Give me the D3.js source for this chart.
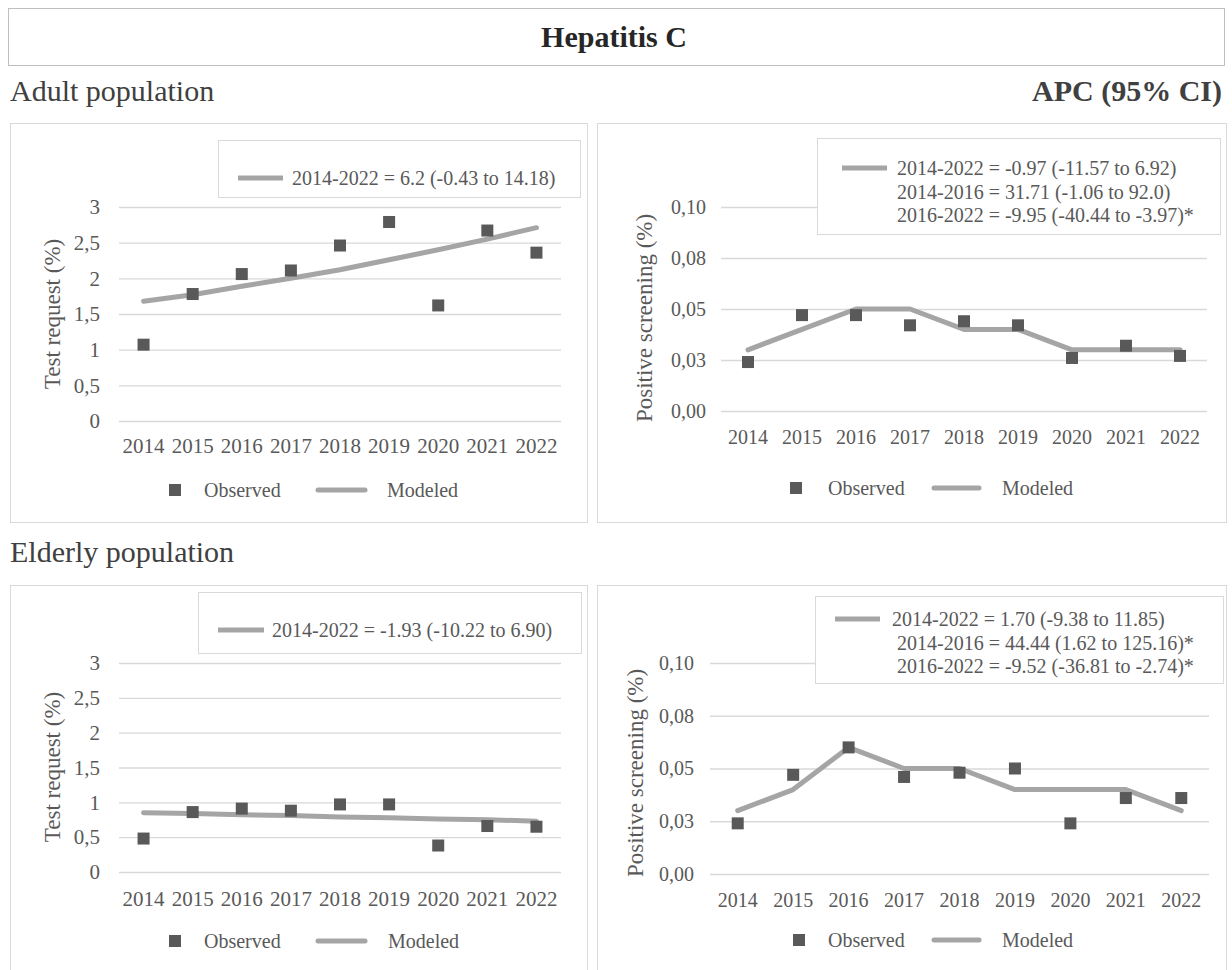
<!DOCTYPE html>
<html>
<head>
<meta charset="utf-8">
<script src="https://cdn.jsdelivr.net/npm/d3@7"></script>
<style>
body{margin:0;background:#fff;}
svg{display:block;}
</style>
</head>
<body>
<svg id="plot"></svg>
<script>
const width = 1232;
const height = 970;
const font = '"Liberation Serif", "Times New Roman", serif';

const years = ['2014','2015','2016','2017','2018','2019','2020','2021','2022'];

const adultTestObserved = [1.07, 1.78, 2.06, 2.11, 2.46, 2.79, 1.62, 2.67, 2.36];
const adultTestModeled = [1.68, 1.77, 1.89, 2.0, 2.12, 2.26, 2.40, 2.55, 2.71];
const adultPosObserved = [0.024, 0.047, 0.047, 0.042, 0.044, 0.042, 0.026, 0.032, 0.027];
const adultPosModeled = [0.03, 0.04, 0.05, 0.05, 0.04, 0.04, 0.03, 0.03, 0.03];
const elderlyTestObserved = [0.48, 0.86, 0.91, 0.88, 0.97, 0.97, 0.38, 0.66, 0.65];
const elderlyTestModeled = [0.85, 0.84, 0.82, 0.81, 0.79, 0.78, 0.76, 0.75, 0.73];
const elderlyPosObserved = [0.024, 0.047, 0.060, 0.046, 0.048, 0.050, 0.024, 0.036, 0.036];
const elderlyPosModeled = [0.03, 0.04, 0.06, 0.05, 0.05, 0.04, 0.04, 0.04, 0.03];

const testTicks = [0, 0.5, 1, 1.5, 2, 2.5, 3];
const testTickLabels = ['0','0,5','1','1,5','2','2,5','3'];
const posTicks = [0, 0.025, 0.05, 0.075, 0.1];
const posTickLabels = ['0,00','0,03','0,05','0,08','0,10'];

const adultTestApc = ['2014-2022 = 6.2 (-0.43 to 14.18)'];
const adultPosApc = [
  '2014-2022 = -0.97 (-11.57 to 6.92)',
  '2014-2016 = 31.71 (-1.06 to 92.0)',
  '2016-2022 = -9.95 (-40.44 to -3.97)*'
];
const elderlyTestApc = ['2014-2022 = -1.93 (-10.22 to 6.90)'];
const elderlyPosApc = [
  '2014-2022 = 1.70 (-9.38 to 11.85)',
  ' 2014-2016 = 44.44 (1.62 to 125.16)*',
  ' 2016-2022 = -9.52 (-36.81 to -2.74)*'
];

const legendNames = ['Observed', 'Modeled'];

const gridColor = '#d9d9d9';
const textColor = '#595959';
const markColor = '#595959';
const lineColor = '#a5a5a5';

let svg;

function main(){
  svg = d3.select('svg#plot')
    .attr('width', width)
    .attr('height', height)
    .style('font-family', font);

  svg.append('rect')
    .attr('width', width).attr('height', height).attr('fill', '#fff');

  // header
  svg.append('rect')
    .attr('x', 8.5).attr('y', 8.5).attr('width', 1216).attr('height', 57)
    .attr('fill', 'none').attr('stroke', '#bfbfbf');
  svg.append('text')
    .attr('x', 614).attr('y', 47)
    .attr('text-anchor', 'middle')
    .attr('font-weight', 'bold').attr('font-size', 30)
    .attr('fill', '#262626')
    .text('Hepatitis C');

  svg.append('text')
    .attr('x', 10).attr('y', 101)
    .attr('font-size', 30).attr('fill', '#404040')
    .text('Adult population');
  svg.append('text')
    .attr('x', 1222).attr('y', 101)
    .attr('text-anchor', 'end')
    .attr('font-weight', 'bold').attr('font-size', 30).attr('fill', '#404040')
    .text('APC (95% CI)');
  svg.append('text')
    .attr('x', 10).attr('y', 562)
    .attr('font-size', 30).attr('fill', '#404040')
    .text('Elderly population');

  drawPanel({
    box: [10, 123, 587, 522],
    xRange: [119, 561], yRange: [421, 207], yDomain: [0, 3],
    ticks: testTicks, tickLabels: testTickLabels,
    yPad: 19, xPad: 17, tickFont: 21,
    title: 'Test request (%)', titleX: 60, titleY: 314,
    observed: adultTestObserved, modeled: adultTestModeled,
    apc: adultTestApc, apcBox: [218, 140, 580, 197], apcLine: [238, 283, 178], apcText: 292,
    legendY: 490, legendX: [169, 204, 318, 365, 387]
  });

  drawPanel({
    box: [597, 123, 1226, 522],
    xRange: [721, 1207], yRange: [411, 207], yDomain: [0, 0.1],
    ticks: posTicks, tickLabels: posTickLabels,
    yPad: 15, xPad: 19, tickFont: 20,
    title: 'Positive screening (%)', titleX: 652, titleY: 318,
    observed: adultPosObserved, modeled: adultPosModeled,
    apc: adultPosApc, apcBox: [817, 138, 1220, 234], apcLine: [842, 887, 168], apcText: 897,
    legendY: 488, legendX: [790, 828, 934, 979, 1002]
  });

  drawPanel({
    box: [10, 585, 587, 975],
    xRange: [119, 561], yRange: [872, 663], yDomain: [0, 3],
    ticks: testTicks, tickLabels: testTickLabels,
    yPad: 19, xPad: 19, tickFont: 21,
    title: 'Test request (%)', titleX: 60, titleY: 767,
    observed: elderlyTestObserved, modeled: elderlyTestModeled,
    apc: elderlyTestApc, apcBox: [198, 592, 581, 653], apcLine: [218, 264, 630], apcText: 272,
    legendY: 941, legendX: [169, 204, 318, 365, 388]
  });

  drawPanel({
    box: [597, 585, 1226, 975],
    xRange: [710, 1209], yRange: [874, 663], yDomain: [0, 0.1],
    ticks: posTicks, tickLabels: posTickLabels,
    yPad: 16, xPad: 19, tickFont: 20,
    title: 'Positive screening (%)', titleX: 643, titleY: 773,
    observed: elderlyPosObserved, modeled: elderlyPosModeled,
    apc: elderlyPosApc, apcBox: [815, 596, 1223, 683], apcLine: [835, 880, 619], apcText: 892,
    legendY: 940, legendX: [793, 828, 934, 979, 1002]
  });
}


function drawPanel(p){
  const g = svg.append('g');

  g.append('rect')
    .attr('x', p.box[0] + 0.5).attr('y', p.box[1] + 0.5)
    .attr('width', p.box[2] - p.box[0]).attr('height', p.box[3] - p.box[1])
    .attr('fill', 'none').attr('stroke', gridColor);

  const sx = d3.scaleBand().domain(years).range(p.xRange);
  const sy = d3.scaleLinear().domain(p.yDomain).range(p.yRange);

  // gridlines + y labels
  const yAxis = d3.axisLeft(sy)
    .tickValues(p.ticks)
    .tickFormat((d, i) => p.tickLabels[i])
    .tickSize(-(p.xRange[1] - p.xRange[0]))
    .tickPadding(p.yPad);
  const gy = g.append('g')
    .attr('transform', `translate(${p.xRange[0]},0)`)
    .call(yAxis)
    .attr('font-family', font)
    .attr('font-size', p.tickFont);
  gy.select('.domain').remove();
  gy.selectAll('line').attr('stroke', gridColor).attr('stroke-width', 1.3);
  gy.selectAll('text').attr('fill', textColor);

  // x labels
  const xAxis = d3.axisBottom(sx).tickSize(0).tickPadding(p.xPad);
  const gx = g.append('g')
    .attr('transform', `translate(0,${p.yRange[0]})`)
    .call(xAxis)
    .attr('font-family', font)
    .attr('font-size', p.tickFont);
  gx.select('.domain').remove();
  gx.selectAll('text').attr('fill', textColor);

  // y title
  g.append('text')
    .attr('transform', `translate(${p.titleX},${p.titleY}) rotate(-90)`)
    .attr('text-anchor', 'middle')
    .attr('font-size', 23)
    .attr('fill', textColor)
    .text(p.title);

  // modeled line
  const line = d3.line()
    .x((d, i) => sx(years[i]) + sx.bandwidth() / 2)
    .y(d => sy(d));
  g.append('path')
    .datum(p.modeled)
    .attr('d', line)
    .attr('fill', 'none')
    .attr('stroke', lineColor)
    .attr('stroke-width', 5)
    .attr('stroke-linejoin', 'round')
    .attr('stroke-linecap', 'round');

  // observed squares
  const sq = 12;
  g.selectAll('.obs')
    .data(p.observed)
    .enter()
    .append('rect')
    .attr('class', 'obs')
    .attr('x', (d, i) => sx(years[i]) + sx.bandwidth() / 2 - sq / 2)
    .attr('y', d => sy(d) - sq / 2)
    .attr('width', sq).attr('height', sq)
    .attr('fill', markColor);

  // APC legend box
  g.append('rect')
    .attr('x', p.apcBox[0] + 0.5).attr('y', p.apcBox[1] + 0.5)
    .attr('width', p.apcBox[2] - p.apcBox[0]).attr('height', p.apcBox[3] - p.apcBox[1])
    .attr('fill', '#fff').attr('stroke', gridColor);
  g.append('line')
    .attr('x1', p.apcLine[0]).attr('x2', p.apcLine[1])
    .attr('y1', p.apcLine[2]).attr('y2', p.apcLine[2])
    .attr('stroke', lineColor).attr('stroke-width', 5);
  g.selectAll('.apc')
    .data(p.apc)
    .enter()
    .append('text')
    .attr('class', 'apc')
    .attr('x', p.apcText)
    .attr('y', (d, i) => p.apcLine[2] + 7 + i * 23.5)
    .attr('font-size', 20)
    .attr('fill', textColor)
    .attr('xml:space', 'preserve')
    .style('white-space', 'pre')
    .text(d => d);

  // bottom legend
  const lx = p.legendX;
  g.append('rect')
    .attr('x', lx[0]).attr('y', p.legendY - sq / 2)
    .attr('width', sq).attr('height', sq)
    .attr('fill', markColor);
  g.append('text')
    .attr('x', lx[1]).attr('y', p.legendY + 7)
    .attr('font-size', 20).attr('fill', textColor)
    .text(legendNames[0]);
  g.append('line')
    .attr('x1', lx[2]).attr('x2', lx[3])
    .attr('y1', p.legendY).attr('y2', p.legendY)
    .attr('stroke', lineColor).attr('stroke-width', 5)
    .attr('stroke-linecap', 'round');
  g.append('text')
    .attr('x', lx[4]).attr('y', p.legendY + 7)
    .attr('font-size', 20).attr('fill', textColor)
    .text(legendNames[1]);
}

document.addEventListener('DOMContentLoaded', main);
</script>
</body>
</html>
